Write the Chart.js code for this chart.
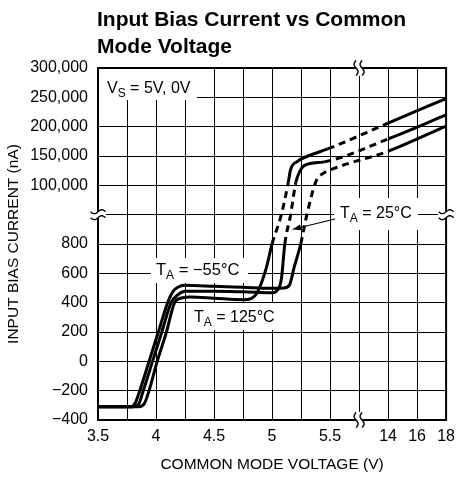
<!DOCTYPE html>
<html><head><meta charset="utf-8">
<script src="https://cdn.jsdelivr.net/npm/chart.js@4/dist/chart.umd.min.js"></script>
<style>html,body{margin:0;padding:0;background:#fff;}#wrap{position:relative;width:462px;height:480px;}</style>
</head><body><div id="wrap"><canvas id="c" width="462" height="480"></canvas></div>
<script>
const FONT = "'Liberation Sans', Arial, Helvetica, sans-serif";
const titleLines = ['Input Bias Current vs Common', 'Mode Voltage'];
const xAxisTitle = 'COMMON MODE VOLTAGE (V)';
const yAxisTitle = 'INPUT BIAS CURRENT (nA)';
const xTickValues = [3.5, 4, 4.5, 5, 5.5, 14, 16, 18];
const yTickValues = [-400, -200, 0, 200, 400, 600, 800, 100000, 150000, 200000, 250000, 300000];
const seriesNames = ['T_A = \u221255\u00b0C', 'T_A = 25\u00b0C', 'T_A = 125\u00b0C'];

// T_A = -55°C
const voltsM55 = [3.5, 3.78, 3.82, 3.86, 3.94, 4.02, 4.1, 4.15, 4.2, 4.25, 4.5, 4.75, 5.0, 5.1, 5.15, 5.19, 5.247, 5.3, 5.375, 5.42, 5.5, 14, 18];
const currM55  = [-310, -310, -285, -200, 0, 200, 400, 480, 510, 518, 512, 505, 498, 500, 520, 640, 800, 1000, 105000, 117600, 126000, 158000, 201000];
// T_A = 25°C
const volts25 = [3.5, 3.8, 3.85, 3.89, 3.97, 4.05, 4.13, 4.19, 4.25, 4.5, 4.75, 5.0, 5.04, 5.08, 5.11, 5.16, 5.205, 5.24, 5.28, 5.45, 14, 18];
const curr25  = [-310, -310, -292, -200, 0, 200, 400, 455, 478, 478, 474, 468, 480, 560, 800, 1000, 105000, 124000, 134000, 140000, 179000, 220000];
// T_A = 125°C
const volts125 = [3.5, 3.85, 3.9, 3.94, 4.01, 4.09, 4.16, 4.22, 4.3, 4.5, 4.75, 4.82, 4.87, 4.95, 5.0, 5.08, 5.14, 5.16, 5.22, 5.31, 5.48, 14, 18];
const curr125  = [-310, -310, -288, -200, 0, 200, 400, 432, 438, 430, 420, 428, 465, 635, 800, 1000, 105000, 127000, 141000, 150000, 162000, 206000, 248000];

// broken axes: map real values onto an evenly divided index scale
function xIdx(v) { return v <= 5.75 ? (v - 3.5) / 0.25 : 9 + (v - 12) / 2; }
function xVal(i) { return i <= 9 ? 3.5 + i * 0.25 : 12 + (i - 9) * 2; }
function yIdx(v) { if (v <= 1000) return (v + 400) / 200; if (v >= 50000) return 7 + (v - 50000) / 50000; return 7; }
function yVal(i) { return i <= 7 ? i * 200 - 400 : 50000 + (i - 7) * 50000; }
function fmtNum(v) {
  const s = Math.abs(v).toString().replace(/\B(?=(\d{3})+(?!\d))/g, ',');
  return (v < 0 ? '\u2212' : '') + s;
}
function pts(vs, cs) { return vs.map((v, k) => ({ x: xIdx(v), y: yIdx(cs[k]) })); }

function makeSet(name, vs, cs, dashRanges) {
  return {
    label: name, data: pts(vs, cs),
    borderColor: '#000', borderWidth: 3, pointRadius: 0, fill: false,
    cubicInterpolationMode: 'monotone', borderCapStyle: 'butt',
    segment: {
      borderDash: ctx => {
        const a = vs[ctx.p0DataIndex], b = vs[ctx.p1DataIndex];
        return dashRanges.some(r => a >= r[0] - 1e-9 && b <= r[1] + 1e-9) ? [7, 5] : undefined;
      }
    }
  };
}

function tickList() { const t = []; for (let i = 0; i <= 12; i++) t.push({ value: i }); return t; }

function drawSub(ctx, x, y, main, sub, rest, size) {
  ctx.font = size + 'px ' + FONT;
  ctx.fillText(main, x, y); x += ctx.measureText(main).width;
  ctx.font = Math.round(size * 0.72) + 'px ' + FONT;
  ctx.fillText(sub, x, y + 4); x += ctx.measureText(sub).width;
  ctx.font = size + 'px ' + FONT;
  ctx.fillText(rest, x, y);
}

const labelsPlugin = {
  id: 'labels',
  beforeDatasetsDraw(chart) {
    const ctx = chart.ctx, a = chart.chartArea;
    ctx.save();
    ctx.fillStyle = '#fff';
    ctx.fillRect(a.left + 1, a.top + 1, 98, 31);
    ctx.fillRect(151, 258, 97, 25);
    ctx.fillRect(190, 303, 90, 27);
    ctx.fillRect(334, 198, 84, 32);
    ctx.fillStyle = '#000';
    ctx.textBaseline = 'alphabetic'; ctx.textAlign = 'left';
    drawSub(ctx, 107, 93, 'V', 'S', ' = 5V, 0V', 16);
    const parts = seriesNames.map(s => { const m = s.split('_'); return [m[0], m[1].charAt(0), m[1].slice(1)]; });
    drawSub(ctx, 156, 275, parts[0][0], parts[0][1], parts[0][2], 16.5);
    drawSub(ctx, 340, 218, parts[1][0], parts[1][1], parts[1][2], 16);
    drawSub(ctx, 194, 322, parts[2][0], parts[2][1], parts[2][2], 16);
    // arrow to the 25°C curve
    ctx.strokeStyle = '#000'; ctx.lineWidth = 1.2;
    ctx.beginPath(); ctx.moveTo(335, 219); ctx.lineTo(298, 228); ctx.stroke();
    const tx = 292, ty = 229.5, ang = Math.atan2(228 - 219, 298 - 335);
    ctx.beginPath();
    ctx.moveTo(tx, ty);
    ctx.lineTo(tx - 9 * Math.cos(ang) + 3 * Math.sin(ang), ty - 9 * Math.sin(ang) - 3 * Math.cos(ang));
    ctx.lineTo(tx - 9 * Math.cos(ang) - 3 * Math.sin(ang), ty - 9 * Math.sin(ang) + 3 * Math.cos(ang));
    ctx.closePath(); ctx.fill();
    ctx.restore();
  },
  afterDraw(chart) {
    const ctx = chart.ctx, a = chart.chartArea;
    const xs = chart.scales.x, ys = chart.scales.y;
    ctx.save();
    ctx.strokeStyle = '#000'; ctx.lineWidth = 2;
    ctx.strokeRect(a.left, a.top, a.right - a.left, a.bottom - a.top);
    // break marks on the y axis (both sides) and x axis (top and bottom)
    const yb = ys.getPixelForValue(7), xb = xs.getPixelForValue(9);
    ctx.lineWidth = 1.4;
    function hTilde(cx, cy) {
      ctx.beginPath();
      for (let k = 0; k <= 20; k++) { const t = -1 + k / 10; const px = cx + t * 7.5, py = cy - 2 * Math.sin(t * Math.PI); k ? ctx.lineTo(px, py) : ctx.moveTo(px, py); }
      ctx.stroke();
    }
    function vTilde(cx, cy) {
      ctx.beginPath();
      for (let k = 0; k <= 20; k++) { const t = -1 + k / 10; const py = cy + t * 7.5, px = cx + 2 * Math.sin(t * Math.PI); k ? ctx.lineTo(px, py) : ctx.moveTo(px, py); }
      ctx.stroke();
    }
    [a.left, a.right].forEach(cx => {
      ctx.fillStyle = '#fff'; ctx.fillRect(cx - 8, yb - 3, 16, 6);
      hTilde(cx, yb - 3); hTilde(cx, yb + 3);
    });
    [a.top, a.bottom].forEach(cy => {
      ctx.fillStyle = '#fff'; ctx.fillRect(xb - 3, cy - 8, 6, 16);
      vTilde(xb - 3, cy); vTilde(xb + 3, cy);
    });
    // title
    ctx.fillStyle = '#000'; ctx.textAlign = 'left'; ctx.textBaseline = 'alphabetic';
    ctx.font = 'bold 21px ' + FONT;
    ctx.fillText(titleLines[0], a.left - 1, 26);
    ctx.fillText(titleLines[1], a.left - 1, 53);
    ctx.restore();
  }
};

new Chart(document.getElementById('c'), {
  type: 'line',
  data: {
    datasets: [
      makeSet(seriesNames[0], voltsM55, currM55, [[5.247, 14]]),
      makeSet(seriesNames[1], volts25, curr25, [[5.11, 5.205], [5.45, 14]]),
      makeSet(seriesNames[2], volts125, curr125, [[5.0, 5.14], [5.48, 14]])
    ]
  },
  options: {
    responsive: false, animation: false, devicePixelRatio: 1,
    layout: { padding: { top: 68, right: 12, bottom: 0, left: 0 } },
    plugins: { legend: { display: false }, tooltip: { enabled: false }, title: { display: false } },
    scales: {
      x: {
        type: 'linear', min: 0, max: 12,
        afterBuildTicks: s => { s.ticks = tickList(); },
        afterFit: s => { s.height = 60; },
        grid: { color: '#000', lineWidth: 1, drawTicks: false },
        border: { color: '#000', width: 2 },
        ticks: {
          autoSkip: false, maxRotation: 0, padding: 7, color: '#000', font: { family: FONT, size: 16 },
          callback: v => { const r = xVal(v); return xTickValues.some(t => Math.abs(t - r) < 1e-9) ? String(r) : ''; }
        },
        title: { display: true, text: xAxisTitle, color: '#000', font: { family: FONT, size: 15.5 }, padding: { top: 0, bottom: 6 } }
      },
      y: {
        type: 'linear', min: 0, max: 12,
        afterBuildTicks: s => { s.ticks = tickList(); },
        afterFit: s => { s.width = 98; },
        grid: { color: '#000', lineWidth: 1, drawTicks: false },
        border: { color: '#000', width: 2 },
        ticks: {
          autoSkip: false, padding: 10, color: '#000', font: { family: FONT, size: 16 },
          callback: v => { const r = yVal(v); return yTickValues.some(t => Math.abs(t - r) < 1e-6) ? fmtNum(r) : ''; }
        },
        title: { display: true, text: yAxisTitle, color: '#000', font: { family: FONT, size: 15.5 }, padding: { top: 4, bottom: 0 } }
      }
    }
  },
  plugins: [labelsPlugin]
});
</script></body></html>
